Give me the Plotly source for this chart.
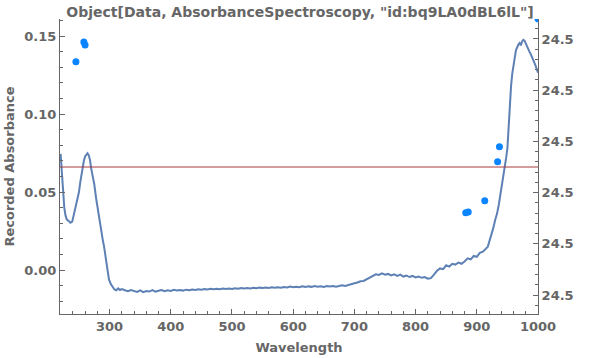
import plotly.graph_objects as go

# ---- spectrum (Wavelength, Recorded Absorbance) ----
wavelength = [220, 222, 224, 226, 228, 230, 233, 236, 239, 242, 245, 248, 250, 252, 254, 256, 258, 260,
              262, 264, 266, 268, 270, 272, 275, 278, 280, 283, 286, 289, 291, 293, 295, 297, 299, 302,
              305, 308, 311, 314, 317, 320,
              325, 330, 335, 340, 345, 350, 355, 360, 365, 370, 375, 380, 385, 390, 395, 400,
              405, 410, 415, 420, 425, 430, 435, 440, 445, 450, 455, 460, 465, 470, 475, 480,
              485, 490, 495, 500, 505, 510, 515, 520, 525, 530, 535, 540, 545, 550, 555, 560,
              565, 570, 575, 580, 585, 590, 595, 600, 605, 610, 615, 620, 625, 630, 635, 640,
              645, 650, 655, 660, 665, 670, 675, 680, 685, 690, 695, 700, 705, 710, 715, 720,
              725, 730, 735, 740, 745, 750, 755, 760, 765, 770, 775, 780, 785, 790, 795, 800,
              805, 810, 815, 820, 825, 830, 835, 840, 845, 850, 855, 860, 865, 870, 875, 880,
              885, 890, 895, 900, 905, 910, 915, 918, 921, 924, 927, 930, 933, 936, 939, 942,
              945, 948, 950, 952, 954, 956, 958, 960, 962, 964, 966, 968, 970, 972, 974, 976,
              978, 980, 982, 984, 986, 988, 990, 992, 994, 996, 998, 1000]
absorbance = [0.0744, 0.0620, 0.0500, 0.0400, 0.0350, 0.0325, 0.0315, 0.0303, 0.0310, 0.0365, 0.0430, 0.0470,
              0.0500, 0.0560, 0.0610, 0.0654, 0.0700, 0.0728, 0.0742, 0.0748, 0.0735, 0.0705, 0.0650, 0.0610,
              0.0550, 0.0460, 0.0406, 0.0330, 0.0270, 0.0190, 0.0150, 0.0100, 0.0050, -0.0030, -0.0060, -0.0090,
              -0.0110, -0.0125, -0.0130, -0.0118, -0.0128, -0.0122,
              -0.0130, -0.0136, -0.0128, -0.0134, -0.0140, -0.0131, -0.0142, -0.0135, -0.0138, -0.0129, -0.0139, -0.0133,
              -0.0128, -0.0136, -0.0130, -0.0134,
              -0.0127, -0.0131, -0.0128, -0.0132, -0.0126, -0.0129, -0.0125, -0.0128, -0.0124, -0.0126, -0.0122, -0.0125,
              -0.0121, -0.0124, -0.0120, -0.0123,
              -0.0119, -0.0122, -0.0118, -0.0121, -0.0117, -0.0120, -0.0116, -0.0119, -0.0115, -0.0118, -0.0114, -0.0117,
              -0.0113, -0.0116, -0.0112, -0.0115,
              -0.0111, -0.0114, -0.0110, -0.0113, -0.0109, -0.0112, -0.0106, -0.0111, -0.0107, -0.0110, -0.0104, -0.0109,
              -0.0105, -0.0108, -0.0103, -0.0107,
              -0.0104, -0.0108, -0.0102, -0.0106, -0.0103, -0.0107, -0.0104, -0.0098, -0.0102, -0.0095, -0.0090, -0.0085,
              -0.0080, -0.0072, -0.0070, -0.0060,
              -0.0048, -0.0035, -0.0028, -0.0032, -0.0022, -0.0030, -0.0025, -0.0035, -0.0028, -0.0038, -0.0030, -0.0042,
              -0.0035, -0.0045, -0.0038, -0.0048,
              -0.0042, -0.0050, -0.0045, -0.0055, -0.0052, -0.0030, -0.0005, 0.0010, 0.0005, 0.0030, 0.0022, 0.0040,
              0.0035, 0.0048, 0.0040, 0.0055,
              0.0075, 0.0068, 0.0090, 0.0085, 0.0110, 0.0118, 0.0140, 0.0150, 0.0190, 0.0225, 0.0270, 0.0320,
              0.0360, 0.0420, 0.0490, 0.0560,
              0.0630, 0.0720, 0.0780, 0.0920, 0.1100, 0.1180, 0.1260, 0.1300, 0.1360, 0.1410, 0.1430, 0.1445,
              0.1455, 0.1440, 0.1465, 0.1475,
              0.1470, 0.1450, 0.1430, 0.1420, 0.1400, 0.1385, 0.1370, 0.1355, 0.1330, 0.1310, 0.1285, 0.1265]

# ---- sample points ----
point_wavelength = [245, 258, 260, 882, 886, 913, 934, 937, 1000]
point_absorbance = [0.1335, 0.1462, 0.1442, 0.0367, 0.0372, 0.0444, 0.0694, 0.0790, 0.1610]

# ---- right-axis reference value ----
ref_wavelength = [219, 1000]
ref_value = [24.5, 24.5]

title_text = 'Object[Data, AbsorbanceSpectroscopy, "id:bq9LA0dBL6lL"]'
x_label = "Wavelength"
y_label = "Recorded Absorbance"

gray = "#666666"
font_family = "DejaVu Sans"

fig = go.Figure()
fig.add_trace(go.Scatter(x=ref_wavelength, y=ref_value, mode="lines", yaxis="y2",
                         line=dict(color="#a83a3a", width=1), showlegend=False, hoverinfo="skip"))
fig.add_trace(go.Scatter(x=wavelength, y=absorbance, mode="lines",
                         line=dict(color="#5e81b5", width=2), showlegend=False))
fig.add_trace(go.Scatter(x=point_wavelength, y=point_absorbance, mode="markers",
                         marker=dict(color="#0a84ff", size=7), showlegend=False, cliponaxis=True))

tickfont = dict(family=font_family, size=13, color=gray, weight="bold")

fig.update_layout(
    width=600, height=358,
    margin=dict(l=60, r=62, t=19, b=44),
    paper_bgcolor="white", plot_bgcolor="white",
    title=dict(text=title_text, x=0.5, xanchor="center", y=1 - 12 / 358, yanchor="middle",
               font=dict(family=font_family, size=14, color=gray, weight="bold")),
    xaxis=dict(range=[219, 1000], showgrid=False, zeroline=False, showline=True, linecolor=gray, linewidth=1,
               automargin=False,
               ticks="inside", ticklen=5, tickcolor=gray, tick0=300, dtick=100, tickfont=tickfont,
               minor=dict(ticks="inside", ticklen=3, tickcolor=gray, dtick=20, tick0=300),
               title=dict(text=x_label, font=dict(family=font_family, size=13, color=gray, weight="bold"),
                          standoff=10)),
    yaxis=dict(range=[-0.0282, 0.1609], showgrid=False, zeroline=False, showline=True, linecolor=gray, linewidth=1,
               automargin=False,
               ticks="inside", ticklen=5, tickcolor=gray, tick0=0, dtick=0.05, tickformat=".2f", tickfont=tickfont,
               minor=dict(ticks="inside", ticklen=3, tickcolor=gray, dtick=0.01, tick0=0),
               title=dict(text=y_label, font=dict(family=font_family, size=13, color=gray, weight="bold"),
                          standoff=6)),
    yaxis2=dict(overlaying="y", side="right", range=[24.5 - 0.0287, 24.5 + 0.0289], showgrid=False,
                zeroline=False, showline=True, linecolor=gray, linewidth=1, automargin=False,
                ticks="inside", ticklen=5, tickcolor=gray, tick0=24.505, dtick=0.01, tickformat=".1f",
                tickfont=tickfont,
                minor=dict(ticks="inside", ticklen=3, tickcolor=gray, dtick=0.002, tick0=24.505)),
)

fig.write_html("out.html")
